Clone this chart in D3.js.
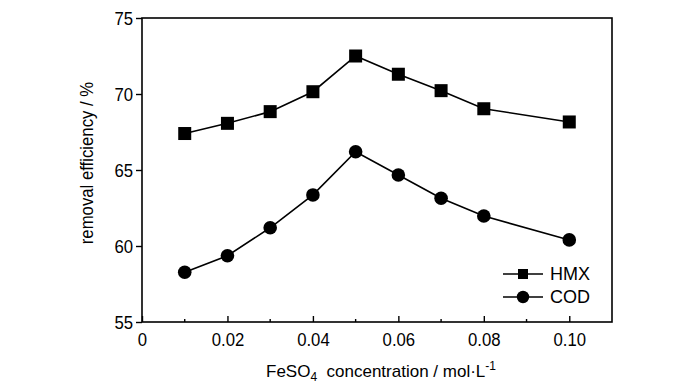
<!DOCTYPE html>
<html><head><meta charset="utf-8">
<script src="https://cdn.jsdelivr.net/npm/d3@7"></script>
<style>
body{margin:0;background:#fff;}
text{font-family:"Liberation Sans",Arial,sans-serif;fill:#000;}
</style></head>
<body><svg id="c" width="700" height="390"></svg>
<script>
const xValues = [0.01,0.02,0.03,0.04,0.05,0.06,0.07,0.08,0.10];
const hmx = [67.4,68.07,68.84,70.15,72.5,71.3,70.22,69.03,68.16];
const cod = [58.27,59.36,61.2,63.36,66.2,64.67,63.14,61.97,60.4];
const xTicks = [0,0.02,0.04,0.06,0.08,0.10];
const xMinor = [0.01,0.03,0.05,0.07,0.09];
const yTicks = [55,60,65,70,75];
const seriesNames = ["HMX","COD"];

const svg = d3.select("#c");
const L=142,R=612,T=18,B=322;
const SX = 0.88;
const x = d3.scaleLinear().domain([0,0.11]).range([L,R]);
const y = d3.scaleLinear().domain([55,75]).range([B,T]);

// frame
svg.append("rect").attr("x",L).attr("y",T).attr("width",R-L).attr("height",B-T)
  .attr("fill","none").attr("stroke","#000").attr("stroke-width",1.6);

// y axis
const ya = svg.append("g").attr("transform",`translate(${L},0)`)
  .call(d3.axisLeft(y).tickValues(yTicks).tickSize(6).tickPadding(4).tickFormat(d3.format("d")));
ya.select(".domain").remove();
ya.selectAll("line").attr("stroke-width",1.4);
ya.selectAll("text").style("font-size","19px").attr("dy","0.36em")
  .attr("x",-9/SX).attr("transform",`scale(${SX},1)`);

// x axis (ticks inward)
const xa = svg.append("g").attr("transform",`translate(0,${B})`)
  .call(d3.axisBottom(x).tickValues(xTicks).tickSize(-6).tickPadding(11)
    .tickFormat(d=> d===0?"0":d3.format(".2f")(d)));
xa.select(".domain").remove();
xa.selectAll("line").attr("stroke-width",1.4);
xa.selectAll("text").style("font-size","19px").attr("transform",`scale(${SX},1)`);
svg.append("g").selectAll("line").data(xMinor).join("line")
  .attr("x1",d=>x(d)).attr("x2",d=>x(d)).attr("y1",B).attr("y2",B-3)
  .attr("stroke","#000").attr("stroke-width",1.4);

// lines
const line = d3.line().x((d,i)=>x(xValues[i])).y(d=>y(d));
[hmx,cod].forEach(s=>{
  svg.append("path").datum(s).attr("d",line).attr("fill","none").attr("stroke","#000").attr("stroke-width",1.6);
});
// markers
svg.append("g").selectAll("rect").data(hmx).join("rect")
  .attr("x",(d,i)=>x(xValues[i])-6.5).attr("y",d=>y(d)-6.5).attr("width",13).attr("height",13).attr("fill","#000");
svg.append("g").selectAll("circle").data(cod).join("circle")
  .attr("cx",(d,i)=>x(xValues[i])).attr("cy",d=>y(d)).attr("r",6.8).attr("fill","#000");

// legend
const lg = svg.append("g");
[274,297].forEach((ly,i)=>{
  lg.append("line").attr("x1",503).attr("x2",543).attr("y1",ly).attr("y2",ly).attr("stroke","#000").attr("stroke-width",1.6);
  if(i===0) lg.append("rect").attr("x",518).attr("y",ly-5).attr("width",10).attr("height",10).attr("fill","#000");
  else lg.append("circle").attr("cx",523).attr("cy",ly).attr("r",6.2).attr("fill","#000");
  lg.append("text").attr("x",550).attr("y",ly).attr("dy","0.36em").style("font-size","18px").text(seriesNames[i]);
});

// axis titles
svg.append("text").attr("transform","translate(93,163) rotate(-90) scale(0.93,1)").attr("text-anchor","middle")
  .style("font-size","18px").text("removal efficiency / %");
const xt = svg.append("text").attr("x",381).attr("y",377).attr("text-anchor","middle").style("font-size","17px");
xt.append("tspan").text("FeSO");
xt.append("tspan").attr("dy",4).style("font-size","12px").text("4");
xt.append("tspan").attr("dy",-4).text("\u00a0\u00a0concentration / mol\u00b7L");
xt.append("tspan").attr("dy",-7).style("font-size","12px").text("-1");
</script></body></html>
